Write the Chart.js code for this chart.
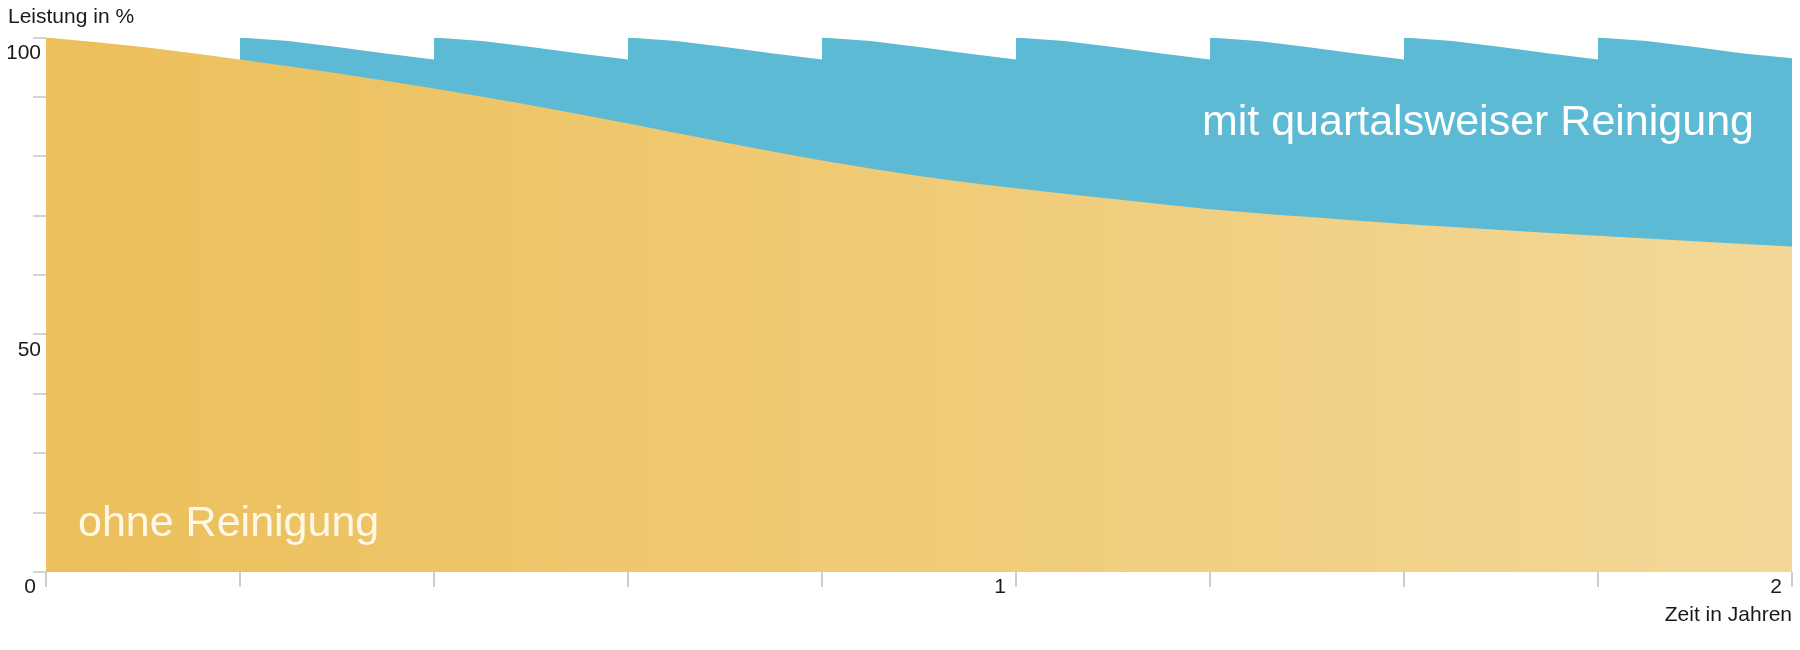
<!DOCTYPE html>
<html lang="de">
<head>
<meta charset="utf-8">
<title>Leistung mit und ohne Reinigung</title>
<script src="https://cdn.jsdelivr.net/npm/chart.js@4.4.1/dist/chart.umd.min.js"></script>
<style>
  html, body { margin: 0; padding: 0; background: #fff; }
  #wrap { width: 1800px; height: 650px; }
</style>
</head>
<body>
<div id="wrap"><canvas id="chart"></canvas></div>
<script>
// x = quarters since start (0 … 9), y = output in %
const quarterTicks = [0, 1, 2, 3, 4, 5, 6, 7, 8, 9];
const quarterLabels = ["0", "", "", "", "", "1", "", "", "", "2"];
const yLabelValues = [100, 50];

// ohne Reinigung
const ohneX = [0, 0.5, 1, 1.5, 2, 2.5, 3, 3.5, 4, 4.5, 5, 5.5, 6, 6.5, 7, 7.5, 8, 8.5, 9];
const ohneY = [100, 98.4, 96.3, 94.0, 91.4, 88.6, 85.5, 82.3, 79.3, 76.7, 74.6, 72.8, 71.1, 69.8, 68.6, 67.6, 66.6, 65.7, 64.8];

// mit quartalsweiser Reinigung (sawtooth, read per quarter)
const mitX = [
  1, 1.25, 1.5, 1.75, 2,
  2, 2.25, 2.5, 2.75, 3,
  3, 3.25, 3.5, 3.75, 4,
  4, 4.25, 4.5, 4.75, 5,
  5, 5.25, 5.5, 5.75, 6,
  6, 6.25, 6.5, 6.75, 7,
  7, 7.25, 7.5, 7.75, 8,
  8, 8.25, 8.5, 8.75, 9
];
const mitY = [
  100, 99.4, 98.4, 97.3, 96.3,
  100, 99.4, 98.4, 97.3, 96.3,
  100, 99.4, 98.4, 97.3, 96.3,
  100, 99.4, 98.4, 97.3, 96.3,
  100, 99.4, 98.4, 97.3, 96.3,
  100, 99.4, 98.4, 97.3, 96.3,
  100, 99.4, 98.4, 97.3, 96.3,
  100, 99.4, 98.4, 97.3, 96.5
];

const FONT = '"Liberation Sans", Arial, Helvetica, sans-serif';
const TEXT = "#1a1a1a";
const BLUE = "#5cbad5";

Chart.defaults.font.family = FONT;
Chart.defaults.color = TEXT;

function yellowFill(context) {
  const { chart } = context;
  const { ctx, chartArea } = chart;
  if (!chartArea) return "#efc872";
  const g = ctx.createLinearGradient(chartArea.left, 0, chartArea.right, 0);
  g.addColorStop(0, "#ebbf5a");
  g.addColorStop(0.45, "#f0ca74");
  g.addColorStop(1, "#f3d898");
  return g;
}

// white labels inside the areas
const areaLabels = {
  id: "areaLabels",
  afterDatasetsDraw(chart) {
    const { ctx, chartArea } = chart;
    ctx.save();
    ctx.font = "43px " + FONT;
    ctx.textBaseline = "alphabetic";
    ctx.textAlign = "left";
    ctx.fillStyle = "#fff8e8";
    ctx.fillText("ohne Reinigung", chartArea.left + 32, chartArea.bottom - 36);
    ctx.textAlign = "right";
    ctx.fillStyle = "#ffffff";
    ctx.fillText("mit quartalsweiser Reinigung", chartArea.right - 38, chartArea.top + 97);
    ctx.restore();
  }
};

new Chart(document.getElementById("chart"), {
  type: "line",
  data: {
    datasets: [
      {
        label: "ohne Reinigung",
        data: ohneX.map((x, i) => ({ x, y: ohneY[i] })),
        backgroundColor: yellowFill,
        borderWidth: 0,
        pointRadius: 0,
        fill: "start",
        cubicInterpolationMode: "monotone"
      },
      {
        label: "mit quartalsweiser Reinigung",
        data: mitX.map((x, i) => ({ x, y: mitY[i] })),
        backgroundColor: BLUE,
        borderWidth: 0,
        pointRadius: 0,
        fill: "start",
        tension: 0
      }
    ]
  },
  options: {
    responsive: true,
    maintainAspectRatio: false,
    animation: false,
    layout: { padding: { left: 8, right: 8, top: 0, bottom: 0 } },
    plugins: {
      legend: { display: false },
      tooltip: { enabled: false },
      title: {
        display: true,
        text: "Leistung in %",
        align: "start",
        color: TEXT,
        font: { size: 21, weight: "normal", lineHeight: 1.2 },
        padding: { top: 4.5, bottom: 7.8 }
      }
    },
    scales: {
      x: {
        type: "linear",
        min: 0,
        max: 9,
        afterBuildTicks: (scale) => {
          scale.ticks = quarterTicks.map((v) => ({ value: v }));
        },
        afterFit: (scale) => { scale.height = 78; },
        border: { display: false },
        grid: { drawOnChartArea: false, tickLength: 15, lineWidth: 2, color: "#cdcdcd" },
        ticks: {
          autoSkip: false,
          maxRotation: 0,
          align: "end",
          labelOffset: -10,
          padding: -12,
          color: TEXT,
          font: { size: 21 },
          callback: (v) => quarterLabels[quarterTicks.indexOf(v)] || ""
        },
        title: {
          display: true,
          text: "Zeit in Jahren",
          align: "end",
          color: TEXT,
          font: { size: 21, lineHeight: 1.2 },
          padding: { top: 0, bottom: 21.7 }
        }
      },
      y: {
        min: 10,
        max: 100,
        afterFit: (scale) => { scale.width = 38; },
        border: { display: false },
        grid: { drawOnChartArea: false, tickLength: 13, lineWidth: 2, color: "#d2d2d2" },
        ticks: {
          stepSize: 10,
          padding: -8,
          labelOffset: 16,
          color: TEXT,
          font: { size: 21 },
          callback: (v) => (yLabelValues.includes(v) ? String(v) : "")
        }
      }
    }
  },
  plugins: [areaLabels]
});
</script>
</body>
</html>
